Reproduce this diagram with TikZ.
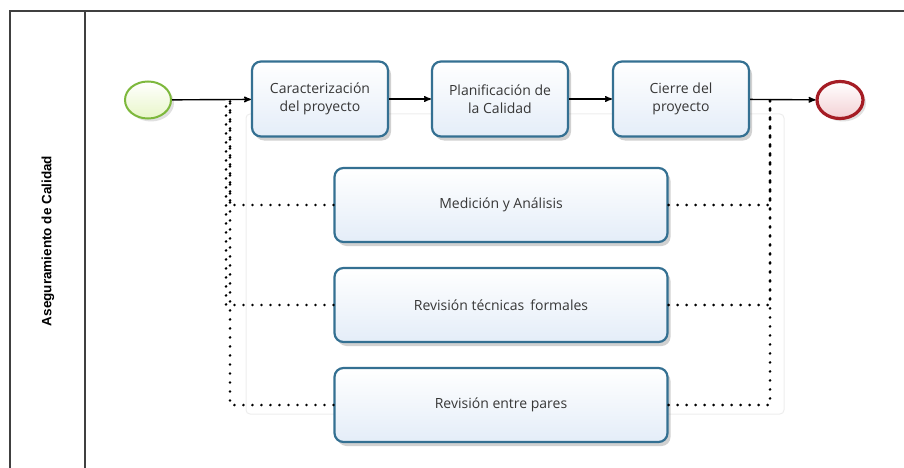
\documentclass[tikz,border=0pt]{standalone}
\usepackage{fontspec}
\setsansfont{Open Sans}
\newfontfamily\lanefont{Liberation Sans}
\usetikzlibrary{arrows,shadows,shapes.geometric}

\definecolor{taskline}{RGB}{52,112,146}
\definecolor{taskfill}{RGB}{228,237,248}
\definecolor{startline}{RGB}{125,184,60}
\definecolor{startfill}{RGB}{232,246,200}
\definecolor{endline}{RGB}{165,28,36}
\definecolor{endfill}{RGB}{243,208,212}
\definecolor{tasktext}{RGB}{55,55,55}

\begin{document}
\begin{tikzpicture}[x=1pt,y=-1pt]
\tikzstyle{every node}=[inner sep=2pt]
\tikzstyle{task}=[draw=taskline, line width=2.2pt, rounded corners=9pt,
  top color=white, bottom color=taskfill, align=center, text=tasktext,
  font=\sffamily\fontsize{14}{18}\selectfont,
  drop shadow={shadow xshift=3pt, shadow yshift=-4pt, opacity=0.3, fill=black!60}]
\tikzstyle{event}=[ellipse, minimum width=46pt, minimum height=37pt,
  drop shadow={shadow xshift=3pt, shadow yshift=-3pt, opacity=0.2, fill=black!60}]
\tikzstyle{flow}=[-stealth', line width=1.4pt]
\tikzstyle{assoc}=[line width=2.8pt, line cap=round, dash pattern=on 0pt off 9pt]
\useasboundingbox (0,0) rectangle (904,468);

% pool and lane
\draw[black!75, line width=1.2pt] (10,468) -- (10,11) -- (904,11);
\draw[black!75, line width=1.2pt] (85,11) -- (85,468);
\draw (48,241) node (lane) [rotate=90, font=\lanefont\bfseries\fontsize{13.5}{15}\selectfont] {Aseguramiento de Calidad};
\draw[black!7, line width=1pt, rounded corners=4pt] (246,114) rectangle (784,414);

% events and tasks
\draw (148,100) node (inicio) [event, draw=startline, line width=2pt, top color=white, bottom color=startfill] {};
\draw (320,99) node (carac) [task, minimum width=136pt, minimum height=75pt] {Caracterización\\del proyecto};
\draw (500,99) node (planif) [task, minimum width=136pt, minimum height=75pt] {Planificación de\\la Calidad};
\draw (681,99) node (cierre) [task, minimum width=136pt, minimum height=75pt] {Cierre del\\proyecto};
\draw (840,100) node (fin) [event, draw=endline, line width=3.2pt, top color=white, bottom color=endfill] {};
\draw (501,205) node (medic) [task, minimum width=333pt, minimum height=74pt] {Medición y Análisis};
\draw (501,305) node (revtec) [task, minimum width=333pt, minimum height=74pt] {Revisión técnicas\, formales};
\draw (501,405) node (revpar) [task, minimum width=333pt, minimum height=74pt] {Revisión entre pares};

% sequence flows
\draw[flow] (inicio) -- (carac);
\draw[flow] (carac) -- (planif);
\draw[flow] (planif) -- (cierre);
\draw[flow] (cierre) -- (fin);

% associations
\coordinate (entrada) at (230,100);
\coordinate (salida) at (770,100);
\draw[assoc] (medic.west) -| (entrada);
\draw[assoc] (revtec.west) -| ([xshift=-4pt]entrada);
\draw[assoc] (revpar.west) -| (entrada);
\draw[assoc] (medic.east) -| (salida);
\draw[assoc] (revtec.east) -| (salida);
\draw[assoc] (revpar.east) -| (salida);
\end{tikzpicture}
\end{document}
